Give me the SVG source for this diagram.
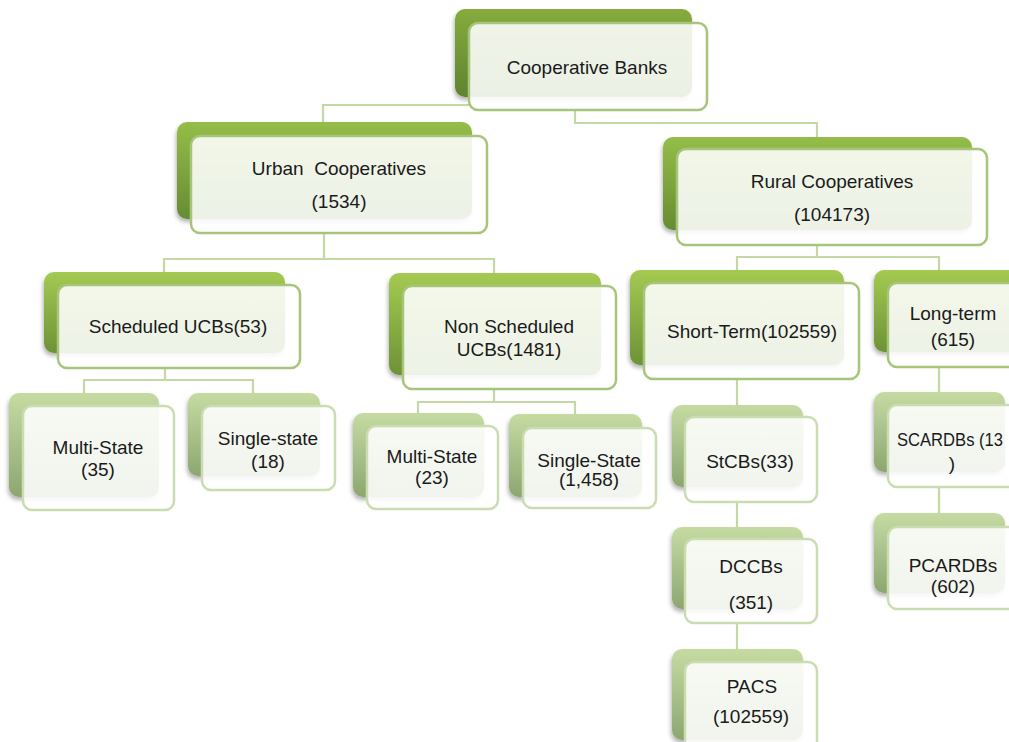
<svg xmlns="http://www.w3.org/2000/svg" width="1009" height="742" viewBox="0 0 1009 742">
<defs>
<linearGradient id="g0" x1="0" y1="0" x2="0" y2="1"><stop offset="0" stop-color="#86ab3e"/><stop offset="1" stop-color="#5e8430"/></linearGradient>
<linearGradient id="g1" x1="0" y1="0" x2="0" y2="1"><stop offset="0" stop-color="#95bd48"/><stop offset="1" stop-color="#668c33"/></linearGradient>
<linearGradient id="g2" x1="0" y1="0" x2="0" y2="1"><stop offset="0" stop-color="#a4ca52"/><stop offset="1" stop-color="#6d9237"/></linearGradient>
<linearGradient id="g3" x1="0" y1="0" x2="0" y2="1"><stop offset="0" stop-color="#c5dba2"/><stop offset="1" stop-color="#8da670"/></linearGradient>
<filter id="sh" x="-10%" y="-10%" width="120%" height="130%"><feDropShadow dx="-1" dy="3" stdDeviation="2" flood-color="#000" flood-opacity="0.3"/></filter>
</defs>
<style>
.b0{fill:url(#g0);filter:url(#sh)}
.b1{fill:url(#g1);filter:url(#sh)}
.b2{fill:url(#g2);filter:url(#sh)}
.b3{fill:url(#g3);filter:url(#sh)}
.f{fill:#ffffff;fill-opacity:0.88;stroke:#a6c57b;stroke-width:2.5}
.fl{fill:#ffffff;fill-opacity:0.88;stroke:#cadcb1;stroke-width:2.5}
.t{font-family:"Liberation Sans",Arial,sans-serif;font-size:19px;fill:#1a1a1a;text-anchor:middle}
.c{fill:none;stroke:#c3d8a3;stroke-width:2.2}
</style>
<rect width="1009" height="742" fill="#ffffff"/>
<g id="connectors">
<path class="c" d="M470,105 H323 V122"/>
<path class="c" d="M575,110 V123 H817 V137"/>
<path class="c" d="M324,233 V259 M164,272 V259 H494 V273"/>
<path class="c" d="M165,368 V380 M84,393 V380 H253 V393"/>
<path class="c" d="M494,389 V402 M418,413 V402 H575 V414"/>
<path class="c" d="M817,245 V257 M737,270 V257 H939 V270"/>
<path class="c" d="M737,379 V405 M737,502 V527 M737,623 V649"/>
<path class="c" d="M939,367 V392 M939,487 V513"/>
</g>
<g id="n-root">
<rect class="b0" x="455" y="9" width="237" height="88" rx="10"/>
<rect class="f" x="469" y="23" width="238" height="87" rx="9"/>
<text class="t" x="587" y="74">Cooperative Banks</text>
</g>
<g id="n-urban">
<rect class="b1" x="177" y="122" width="295" height="97" rx="10"/>
<rect class="f" x="191" y="136" width="296" height="97" rx="9"/>
<text class="t" x="339" y="175" xml:space="preserve">Urban  Cooperatives</text>
<text class="t" x="339" y="208">(1534)</text>
</g>
<g id="n-rural">
<rect class="b1" x="663" y="137" width="309" height="93" rx="10"/>
<rect class="f" x="677" y="149" width="310" height="96" rx="9"/>
<text class="t" x="832" y="188">Rural Cooperatives</text>
<text class="t" x="832" y="221">(104173)</text>
</g>
<g id="n-sched">
<rect class="b2" x="44" y="272" width="241" height="81" rx="10"/>
<rect class="f" x="58" y="285" width="242" height="83" rx="9"/>
<text class="t" x="178" y="333">Scheduled UCBs(53)</text>
</g>
<g id="n-nonsched">
<rect class="b2" x="389" y="273" width="212" height="102" rx="10"/>
<rect class="f" x="403" y="286" width="213" height="103" rx="9"/>
<text class="t" x="509" y="333">Non Scheduled</text>
<text class="t" x="509" y="356">UCBs(1481)</text>
</g>
<g id="n-short">
<rect class="b2" x="630" y="270" width="214" height="95" rx="10"/>
<rect class="f" x="644" y="283" width="215" height="96" rx="9"/>
<text class="t" x="752" y="338">Short-Term(102559)</text>
</g>
<g id="n-long">
<rect class="b2" x="874" y="270" width="150" height="82" rx="10"/>
<rect class="f" x="888" y="283" width="150" height="84" rx="9"/>
<text class="t" x="953" y="320">Long-term</text>
<text class="t" x="953" y="346">(615)</text>
</g>
<g id="n-ms35">
<rect class="b3" x="9" y="393" width="150" height="104" rx="10"/>
<rect class="fl" x="23" y="406" width="151" height="104" rx="9"/>
<text class="t" x="98" y="454">Multi-State</text>
<text class="t" x="98" y="476">(35)</text>
</g>
<g id="n-ss18">
<rect class="b3" x="188" y="393" width="132" height="83" rx="10"/>
<rect class="fl" x="202" y="406" width="133" height="84" rx="9"/>
<text class="t" x="268" y="445">Single-state</text>
<text class="t" x="268" y="468">(18)</text>
</g>
<g id="n-ms23">
<rect class="b3" x="353" y="413" width="131" height="84" rx="10"/>
<rect class="fl" x="367" y="426" width="131" height="83" rx="9"/>
<text class="t" x="432" y="463">Multi-State</text>
<text class="t" x="432" y="484">(23)</text>
</g>
<g id="n-ss1458">
<rect class="b3" x="509" y="414" width="133" height="83" rx="10"/>
<rect class="fl" x="523" y="428" width="133" height="80" rx="9"/>
<text class="t" x="589" y="467">Single-State</text>
<text class="t" x="589" y="486">(1,458)</text>
</g>
<g id="n-stcbs">
<rect class="b3" x="672" y="405" width="131" height="82" rx="10"/>
<rect class="fl" x="685" y="417" width="132" height="85" rx="9"/>
<text class="t" x="750" y="468">StCBs(33)</text>
</g>
<g id="n-dccbs">
<rect class="b3" x="672" y="527" width="131" height="82" rx="10"/>
<rect class="fl" x="685" y="539" width="132" height="84" rx="9"/>
<text class="t" x="751" y="573">DCCBs</text>
<text class="t" x="751" y="609">(351)</text>
</g>
<g id="n-pacs">
<rect class="b3" x="672" y="649" width="131" height="91" rx="10"/>
<rect class="fl" x="685" y="662" width="132" height="90" rx="9"/>
<text class="t" x="752" y="693">PACS</text>
<text class="t" x="751" y="723">(102559)</text>
</g>
<g id="n-scardbs">
<rect class="b3" x="874" y="392" width="131" height="80" rx="10"/>
<rect class="fl" x="888" y="405" width="140" height="82" rx="9"/>
<text class="t" x="897" y="446" style="text-anchor:start" textLength="106" lengthAdjust="spacingAndGlyphs">SCARDBs (13</text>
<text class="t" x="952" y="470">)</text>
</g>
<g id="n-pcardbs">
<rect class="b3" x="874" y="513" width="131" height="80" rx="10"/>
<rect class="fl" x="888" y="527" width="140" height="82" rx="9"/>
<text class="t" x="953" y="572">PCARDBs</text>
<text class="t" x="953" y="593">(602)</text>
</g>
</svg>
